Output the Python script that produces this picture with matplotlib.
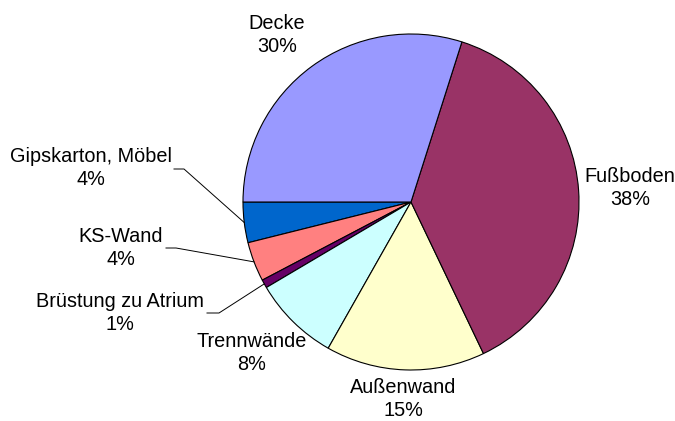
import numpy as np
import matplotlib
matplotlib.use("Agg")
import matplotlib.pyplot as plt

# slice values (percent), counter-clockwise starting at 9 o'clock
names = ["Gipskarton, Möbel", "KS-Wand", "Brüstung zu Atrium", "Trennwände",
         "Außenwand", "Fußboden", "Decke"]
values = [3.9, 3.8, 0.8, 8.3, 15.3, 38.0, 29.9]
colors = ["#0066CC", "#FF8080", "#660066", "#CCFFFF", "#FFFFCC", "#993366", "#9999FF"]

W, H = 675, 421
plt.rcParams['font.family'] = ['Liberation Sans', 'DejaVu Sans']

fig = plt.figure(figsize=(W / 100, H / 100), dpi=100)
ax = fig.add_axes([0, 0, 1, 1])

cx, cy, r = 411, H - 202, 168
wedges, _ = ax.pie(values, colors=colors, startangle=180, counterclock=True,
                   center=(cx, cy), radius=r, frame=True,
                   wedgeprops=dict(edgecolor="black", linewidth=0.8))
ax.set_xlim(0, W)
ax.set_ylim(0, H)
ax.set_aspect("equal")
ax.axis("off")

# label centres in pixels from top-left, plus leader-line elbows where needed
label_pos = [(91, 168), (121, 248), (120, 313), (252, 353), (403, 399), (630, 188), (277, 35)]
elbows = {0: (174, 184, 169), 1: (166, 176, 248), 2: (207, 219, 313)}

total = sum(values)
for i, (w, name, v) in enumerate(zip(wedges, names, values)):
    lx, ly = label_pos[i]
    ax.text(lx, H - ly, f"{name}\n{v / total * 100:.0f}%", ha="center", va="center",
            fontsize=14.3, linespacing=1.22, color="black")
    if i in elbows:
        x0, x1, ey = elbows[i]
        mid = np.radians((w.theta1 + w.theta2) / 2)
        px, py = cx + r * np.cos(mid), cy + r * np.sin(mid)
        ax.plot([x0, x1, px], [H - ey, H - ey, py], color="black", lw=0.7)

fig.savefig("out.png", dpi=100)
